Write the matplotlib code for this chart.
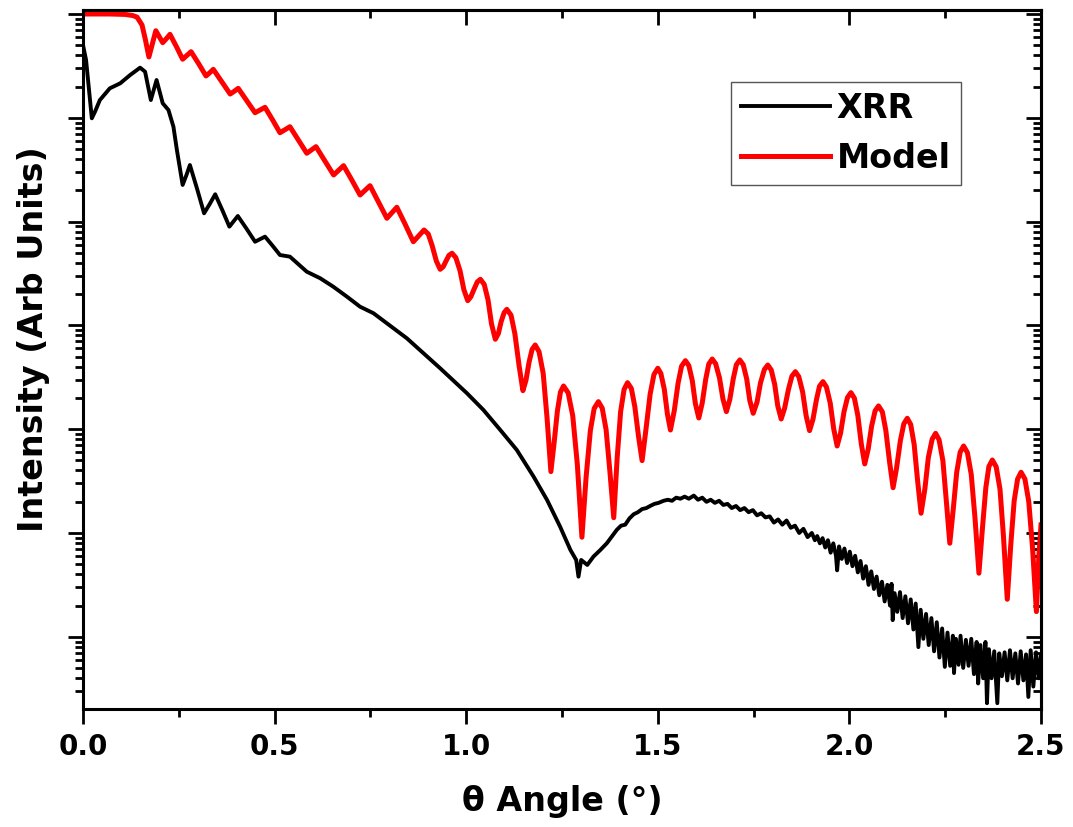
import numpy as np
import matplotlib
matplotlib.use('Agg')
import matplotlib.pyplot as plt
from matplotlib.ticker import LogLocator, NullFormatter, MultipleLocator

xrr_theta = [
    0.000, 0.008, 0.023, 0.031, 0.044, 0.070, 0.097, 0.123, 0.149, 0.162,
    0.177, 0.192, 0.208, 0.223, 0.236, 0.245, 0.260, 0.270, 0.279, 0.298,
    0.316, 0.331, 0.345, 0.364, 0.382, 0.393, 0.404, 0.427, 0.449, 0.462,
    0.475, 0.495, 0.514, 0.540, 0.584, 0.619, 0.653, 0.689, 0.723, 0.758,
    0.845, 0.932, 1.002, 1.045, 1.089, 1.132, 1.176, 1.211, 1.245, 1.272,
    1.287, 1.293, 1.300, 1.316, 1.332, 1.350, 1.367, 1.393, 1.404, 1.415,
    1.426, 1.437, 1.448, 1.459, 1.470, 1.480, 1.491, 1.502, 1.515, 1.526,
    1.537, 1.548, 1.559, 1.570, 1.581, 1.594, 1.605, 1.616, 1.627, 1.638,
    1.649, 1.660, 1.671, 1.682, 1.693, 1.704, 1.715, 1.726, 1.737, 1.748,
    1.759, 1.770, 1.781, 1.792, 1.803, 1.814, 1.825, 1.836, 1.847, 1.858,
    1.869, 1.880, 1.891, 1.902, 1.910, 1.916, 1.923, 1.930, 1.937, 1.944,
    1.951, 1.958, 1.965, 1.968, 1.973, 1.980, 1.987, 1.994, 2.001, 2.008,
    2.015, 2.022, 2.029, 2.036, 2.043, 2.050, 2.057, 2.064, 2.071, 2.078,
    2.085, 2.092, 2.099, 2.106, 2.110, 2.113, 2.118, 2.125, 2.132, 2.139,
    2.146, 2.153, 2.160, 2.167, 2.173, 2.180, 2.186, 2.193, 2.200, 2.207,
    2.214, 2.221, 2.228, 2.235, 2.242, 2.249, 2.256, 2.263, 2.270, 2.273,
    2.278, 2.285, 2.290, 2.297, 2.304, 2.311, 2.318, 2.325, 2.332, 2.336,
    2.342, 2.349, 2.355, 2.359, 2.364, 2.371, 2.378, 2.386, 2.391, 2.398,
    2.405, 2.412, 2.419, 2.426, 2.433, 2.440, 2.447, 2.454, 2.461, 2.467,
    2.473, 2.480, 2.487, 2.494, 2.500,
]
xrr_log = [
    -0.299, -0.443, -1.005, -0.944, -0.829, -0.716, -0.668, -0.588, -0.517, -0.556,
    -0.829, -0.636, -0.860, -0.925, -1.086, -1.310, -1.647, -1.551, -1.455, -1.688,
    -1.920, -1.829, -1.737, -1.893, -2.049, -1.998, -1.946, -2.070, -2.194, -2.170,
    -2.145, -2.234, -2.322, -2.338, -2.483, -2.546, -2.627, -2.724, -2.820, -2.883,
    -3.124, -3.413, -3.654, -3.815, -4.008, -4.200, -4.458, -4.682, -4.939, -5.164,
    -5.260, -5.421, -5.260, -5.308, -5.228, -5.164, -5.099, -4.970, -4.930, -4.920,
    -4.860, -4.820, -4.800, -4.770, -4.760, -4.740, -4.720, -4.710, -4.690, -4.680,
    -4.690, -4.660, -4.670, -4.650, -4.670, -4.640, -4.680, -4.660, -4.700, -4.680,
    -4.710, -4.690, -4.730, -4.720, -4.760, -4.740, -4.780, -4.760, -4.800, -4.780,
    -4.830, -4.810, -4.850, -4.840, -4.900, -4.870, -4.920, -4.880, -4.950, -4.930,
    -5.000, -4.960, -5.040, -5.000, -5.070, -5.030, -5.100, -5.050, -5.140, -5.070,
    -5.190, -5.100, -5.220, -5.360, -5.130, -5.250, -5.150, -5.290, -5.180, -5.320,
    -5.220, -5.380, -5.270, -5.440, -5.320, -5.500, -5.370, -5.540, -5.420, -5.600,
    -5.470, -5.660, -5.500, -5.700, -5.490, -5.840, -5.580, -5.760, -5.570, -5.820,
    -5.610, -5.870, -5.640, -5.930, -5.680, -6.100, -5.740, -6.020, -5.780, -6.080,
    -5.820, -6.140, -5.860, -6.200, -5.920, -6.290, -5.960, -6.280, -5.990, -6.350,
    -6.020, -6.270, -5.990, -6.300, -6.030, -6.280, -6.020, -6.360, -6.050, -6.450,
    -6.080, -6.400, -6.050, -6.640, -6.120, -6.400, -6.140, -6.640, -6.160, -6.380,
    -6.150, -6.420, -6.130, -6.400, -6.160, -6.450, -6.140, -6.420, -6.170, -6.580,
    -6.130, -6.480, -6.150, -6.400, -6.180,
]

# Model curve: theta (deg) and log10 of intensity
model_theta = [
    0.000, 0.070, 0.110, 0.130, 0.141, 0.154, 0.163, 0.172, 0.181, 0.190,
    0.199, 0.208, 0.218, 0.227, 0.244, 0.260, 0.271, 0.282, 0.302, 0.321,
    0.331, 0.340, 0.362, 0.384, 0.395, 0.405, 0.427, 0.449, 0.462, 0.475,
    0.495, 0.514, 0.527, 0.540, 0.562, 0.584, 0.596, 0.608, 0.631, 0.654,
    0.667, 0.680, 0.702, 0.723, 0.736, 0.749, 0.771, 0.793, 0.806, 0.819,
    0.841, 0.862, 0.876, 0.890,
    0.901, 0.911, 0.922, 0.932,
    0.940, 0.948, 0.955, 0.963,
    0.973, 0.984, 0.994, 1.004,
    1.012, 1.021, 1.029, 1.037,
    1.047, 1.057, 1.066, 1.076,
    1.084, 1.091, 1.099, 1.106,
    1.117, 1.127, 1.138, 1.148,
    1.156, 1.164, 1.172, 1.180,
    1.190, 1.201, 1.211, 1.221,
    1.229, 1.238, 1.246, 1.254,
    1.266, 1.278, 1.290, 1.302,
    1.313, 1.324, 1.334, 1.345,
    1.355, 1.365, 1.375, 1.385,
    1.394, 1.403, 1.412, 1.421,
    1.431, 1.440, 1.450, 1.459,
    1.469, 1.480, 1.490, 1.500,
    1.508, 1.517, 1.525, 1.533,
    1.543, 1.553, 1.562, 1.572,
    1.581, 1.590, 1.598, 1.607,
    1.616, 1.625, 1.633, 1.642,
    1.651, 1.661, 1.670, 1.679,
    1.688, 1.697, 1.705, 1.714,
    1.723, 1.732, 1.740, 1.749,
    1.759, 1.768, 1.778, 1.787,
    1.796, 1.805, 1.813, 1.822,
    1.831, 1.841, 1.850, 1.859,
    1.868, 1.878, 1.887, 1.896,
    1.905, 1.914, 1.922, 1.931,
    1.940, 1.950, 1.959, 1.968,
    1.977, 1.986, 1.995, 2.004,
    2.013, 2.022, 2.031, 2.040,
    2.049, 2.058, 2.067, 2.076,
    2.086, 2.095, 2.105, 2.114,
    2.123, 2.133, 2.142, 2.151,
    2.160, 2.169, 2.178, 2.187,
    2.197, 2.206, 2.216, 2.225,
    2.234, 2.244, 2.253, 2.262,
    2.271, 2.280, 2.289, 2.298,
    2.308, 2.318, 2.328, 2.338,
    2.347, 2.356, 2.364, 2.373,
    2.383, 2.393, 2.402, 2.412,
    2.421, 2.430, 2.439, 2.448,
    2.458, 2.468, 2.478, 2.488,
    2.494, 2.500,
]
model_log = [
    0.000, 0.000, -0.004, -0.015, -0.030, -0.106, -0.250, -0.414, -0.288, -0.161,
    -0.219, -0.276, -0.236, -0.196, -0.316, -0.436, -0.400, -0.363, -0.480, -0.597,
    -0.565, -0.533, -0.652, -0.771, -0.744, -0.716, -0.834, -0.951, -0.925, -0.899,
    -1.022, -1.144, -1.115, -1.086, -1.214, -1.342, -1.310, -1.278, -1.415, -1.551,
    -1.506, -1.461, -1.603, -1.744, -1.699, -1.654, -1.811, -1.968, -1.915, -1.862,
    -2.028, -2.194, -2.138, -2.081,
    -2.120, -2.230, -2.379, -2.460,
    -2.435, -2.375, -2.325, -2.305,
    -2.348, -2.475, -2.657, -2.762,
    -2.725, -2.647, -2.581, -2.556,
    -2.605, -2.755, -2.985, -3.134,
    -3.078, -2.966, -2.877, -2.845,
    -2.902, -3.080, -3.388, -3.629,
    -3.529, -3.355, -3.231, -3.189,
    -3.253, -3.464, -3.893, -4.409,
    -4.146, -3.824, -3.642, -3.584,
    -3.650, -3.870, -4.339, -5.041,
    -4.458, -4.014, -3.800, -3.735,
    -3.798, -4.003, -4.408, -4.853,
    -4.274, -3.831, -3.617, -3.552,
    -3.608, -3.782, -4.078, -4.303,
    -4.005, -3.662, -3.473, -3.413,
    -3.463, -3.616, -3.853, -4.008,
    -3.822, -3.556, -3.393, -3.340,
    -3.388, -3.532, -3.753, -3.892,
    -3.747, -3.520, -3.373, -3.324,
    -3.370, -3.506, -3.709, -3.831,
    -3.713, -3.513, -3.379, -3.333,
    -3.380, -3.516, -3.723, -3.847,
    -3.739, -3.554, -3.426, -3.382,
    -3.429, -3.567, -3.775, -3.902,
    -3.797, -3.616, -3.489, -3.446,
    -3.495, -3.642, -3.869, -4.014,
    -3.904, -3.716, -3.586, -3.542,
    -3.593, -3.750, -3.996, -4.162,
    -4.038, -3.831, -3.695, -3.648,
    -3.701, -3.868, -4.141, -4.335,
    -4.193, -3.970, -3.824, -3.776,
    -3.833, -4.011, -4.321, -4.564,
    -4.377, -4.111, -3.948, -3.895,
    -3.955, -4.147, -4.497, -4.810,
    -4.576, -4.273, -4.096, -4.040,
    -4.102, -4.304, -4.695, -5.099,
    -4.772, -4.416, -4.222, -4.162,
    -4.226, -4.437, -4.867, -5.388,
    -4.963, -4.564, -4.360, -4.297,
    -4.362, -4.578, -5.029, -5.639,
    -5.120, -4.690, -4.479, -4.415,
    -4.480, -4.696, -5.147, -5.758,
    -5.250, -4.923,
]

plt.rcParams['font.family'] = 'DejaVu Sans'
plt.rcParams['font.weight'] = 'bold'

fig = plt.figure(figsize=(10.73, 8.27), dpi=100)
ax = fig.add_axes([83 / 1073, 118 / 827, 958 / 1073, 699 / 827])

ax.plot(xrr_theta, 10 ** np.array(xrr_log), color='black', lw=2.8, label='XRR')
ax.plot(model_theta, 10 ** np.array(model_log), color='red', lw=3.6, label='Model')

ax.set_yscale('log')
ax.set_xlim(0, 2.5)
ax.set_ylim(10 ** -6.696, 10 ** 0.0385)

for s in ax.spines.values():
    s.set_linewidth(2.2)

# bottom / left ticks point out
ax.xaxis.set_major_locator(MultipleLocator(0.5))
ax.xaxis.set_minor_locator(MultipleLocator(0.25))
ax.yaxis.set_major_locator(LogLocator(base=10, numticks=20))
ax.yaxis.set_minor_locator(LogLocator(base=10, subs=np.arange(2, 10), numticks=20))
ax.yaxis.set_major_formatter(NullFormatter())
ax.yaxis.set_minor_formatter(NullFormatter())
ax.tick_params(which='both', direction='out', width=2, top=False, right=False)
ax.tick_params(which='major', length=11)
ax.tick_params(which='minor', length=5.5)
ax.tick_params(axis='x', labelsize=20, pad=6)

# top / right ticks point in
top = ax.secondary_xaxis('top')
top.xaxis.set_major_locator(MultipleLocator(0.5))
top.xaxis.set_minor_locator(MultipleLocator(0.25))
top.tick_params(which='both', direction='in', width=2, labeltop=False)
top.tick_params(which='major', length=11)
top.tick_params(which='minor', length=5.5)
top.spines['top'].set_linewidth(2.2)

right = ax.secondary_yaxis('right')
right.yaxis.set_major_locator(LogLocator(base=10, numticks=20))
right.yaxis.set_minor_locator(LogLocator(base=10, subs=np.arange(2, 10), numticks=20))
right.yaxis.set_major_formatter(NullFormatter())
right.yaxis.set_minor_formatter(NullFormatter())
right.tick_params(which='both', direction='in', width=2, labelright=False)
right.tick_params(which='major', length=11)
right.tick_params(which='minor', length=5.5)
right.spines['right'].set_linewidth(2.2)

ax.set_xlabel('θ Angle (°)', fontsize=24, fontweight='bold')
ax.set_ylabel('Intensity (Arb Units)', fontsize=24, fontweight='bold')
ax.xaxis.set_label_coords(0.5, -0.1087)
ax.yaxis.set_label_coords(-0.0344, 0.529)

leg = ax.legend(loc='upper left', bbox_to_anchor=(0.6764, 0.897), borderaxespad=0,
                frameon=True, fancybox=False, edgecolor='#555555', framealpha=1,
                handlelength=2.67, handletextpad=0.2, borderpad=0.3,
                labelspacing=0.5, prop={'weight': 'bold', 'size': 24})
leg.get_frame().set_linewidth(1.0)

fig.savefig('out.png', dpi=100)
